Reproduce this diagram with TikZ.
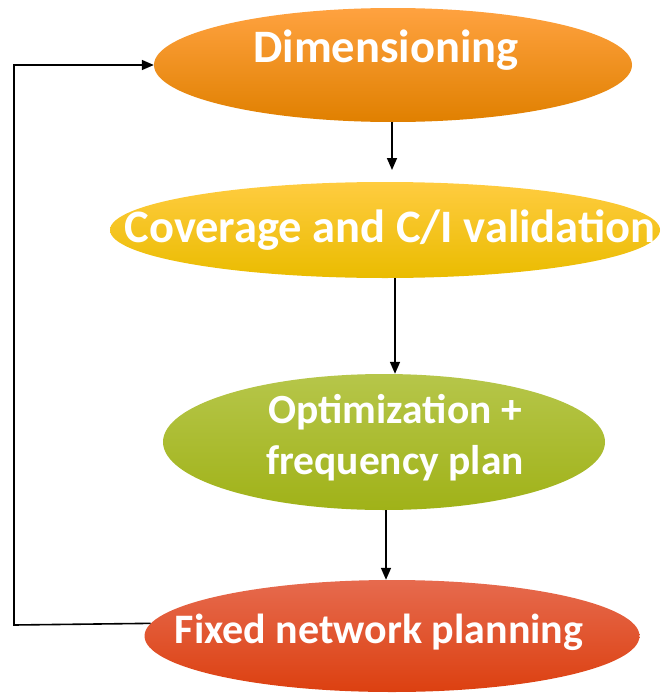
\documentclass[tikz,border=0pt]{standalone}
\usepackage{fontspec}
\setmainfont{Carlito}
\usetikzlibrary{shapes.geometric,arrows.meta}
\tikzset{
  ell/.style={ellipse,inner sep=0pt,draw=none},
  lbl/.style={text=white,font=\bfseries\fontsize{46.5}{51}\selectfont,align=center,inner sep=0pt},
  arr/.style={line width=1.6pt,-{Triangle[length=12pt,width=10pt]}},
}
\begin{document}
\begin{tikzpicture}[x=1pt,y=-1pt]
\useasboundingbox (0,0) rectangle (668,696);
\node[ell,minimum width=478pt,minimum height=114pt,
  top color={rgb,255:red,255;green,162;blue,64},middle color={rgb,255:red,252;green,146;blue,0},bottom color={rgb,255:red,224;green,128;blue,0}] (D) at (393,65) {};
\node[lbl] (Dt) at (386,50) {Dimensioning};
\node[ell,minimum width=550pt,minimum height=96pt,
  top color={rgb,255:red,255;green,204;blue,64},middle color={rgb,255:red,255;green,198;blue,0},bottom color={rgb,255:red,234;green,188;blue,0}] (C) at (385,230) {};
\node[lbl] (Ct) at (390,230) {Coverage and C/I validation};
\node[ell,minimum width=442pt,minimum height=136pt,
  top color={rgb,255:red,182;green,198;blue,74},middle color={rgb,255:red,172;green,190;blue,36},bottom color={rgb,255:red,160;green,178;blue,24}] (O) at (384,442) {};
\node[lbl,font=\bfseries\fontsize{41.5}{51}\selectfont] (Ot) at (395,438) {Optimization +\\frequency plan};
\node[ell,minimum width=495pt,minimum height=112pt,
  top color={rgb,255:red,230;green,106;blue,78},middle color={rgb,255:red,228;green,84;blue,40},bottom color={rgb,255:red,220;green,64;blue,16}] (F) at (392,636) {};
\node[lbl,font=\bfseries\fontsize{42}{48}\selectfont] (Ft) at (379,632) {Fixed network planning};
\coordinate (c1) at (14,625);
\coordinate (c2) at (14,65);
\draw[arr] (D.south -| 392,0) -- (392,170);
\draw[arr] (C.south -| 395,0) -- (O.north -| 395,0);
\draw[arr] (O.south -| 386,0) -- (F.north -| 386,0);
\draw[arr] (F.177.5) -- (c1) -- (c2) -- (D.west);
\end{tikzpicture}
\end{document}
